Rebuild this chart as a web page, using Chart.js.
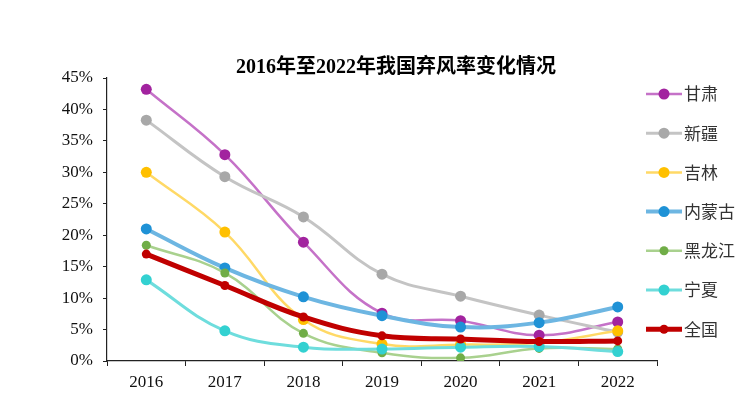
<!DOCTYPE html>
<html>
<head>
<meta charset="utf-8">
<script src="https://cdn.jsdelivr.net/npm/chart.js@4"></script>
<style>
  html, body { margin: 0; padding: 0; background: #fff; }
  #wrap { width: 756px; height: 398px; }
</style>
</head>
<body>
<div id="wrap"><canvas id="chart" width="756" height="398"></canvas></div>
<script>
"use strict";

    // 年份
    const years = ['2016', '2017', '2018', '2019', '2020', '2021', '2022'];

    // 各地区弃风率（%）
    const gansu = [43.2, 32.8, 18.9, 7.6, 6.4, 4.1, 6.2];
    const xinjiang = [38.3, 29.3, 22.9, 13.8, 10.3, 7.3, 4.6];
    const jilin = [30.0, 20.5, 6.6, 2.7, 2.6, 2.9, 4.8];
    const neimenggu = [21.0, 14.8, 10.2, 7.2, 5.4, 6.1, 8.6];
    const heilongjiang = [18.4, 14.0, 4.4, 1.3, 0.5, 2.0, 1.9];
    const ningxia = [12.9, 4.8, 2.2, 1.9, 2.2, 2.3, 1.5];
    const national = [17.0, 12.0, 7.0, 4.0, 3.5, 3.1, 3.2];

    const yTicks = [0, 5, 10, 15, 20, 25, 30, 35, 40, 45];

    const serif = "'Liberation Serif', 'Noto Sans CJK SC', serif";
    const cjk = "'Noto Sans CJK SC', sans-serif";

    function series(label, data, line, point, width, radius, order) {
        return {
            label,
            data,
            borderColor: line,
            backgroundColor: point,
            pointBackgroundColor: point,
            pointBorderColor: point,
            pointBorderWidth: 0,
            borderWidth: width,
            pointRadius: radius,
            pointHoverRadius: radius,
            tension: 0.4,
            order
        };
    }

    // 标题
    const titlePlugin = {
        id: 'titleText',
        afterDraw(chart) {
            const c = chart.ctx;
            c.save();
            c.font = "bold 20px " + serif;
            c.fillStyle = '#000';
            c.textAlign = 'center';
            c.textBaseline = 'middle';
            c.fillText('2016年至2022年我国弃风率变化情况', 396, 68);
            c.restore();
        }
    };

    // 图例（线段 + 圆点）
    const legendPlugin = {
        id: 'lineLegend',
        afterDraw(chart) {
            const c = chart.ctx;
            const startY = 94;
            const gap = 39.2;
            chart.data.datasets.forEach((ds, i) => {
                const y = startY + i * gap;
                c.save();
                c.strokeStyle = ds.borderColor;
                c.lineWidth = ds.borderWidth;
                c.beginPath();
                c.moveTo(646, y);
                c.lineTo(682, y);
                c.stroke();
                c.fillStyle = ds.pointBackgroundColor;
                c.beginPath();
                c.arc(664, y, ds.pointRadius, 0, Math.PI * 2);
                c.fill();
                c.font = "17px " + cjk;
                c.fillStyle = '#333';
                c.textAlign = 'left';
                c.textBaseline = 'middle';
                c.fillText(ds.label, 684, y);
                c.restore();
            });
        }
    };

    const ctx = document.getElementById('chart').getContext('2d');
    const chart = new Chart(ctx, {
        type: 'line',
        data: {
            labels: years,
            datasets: [
                series('甘肃', gansu, '#C572C8', '#A2239F', 2.5, 5.5, 6),
                series('新疆', xinjiang, '#C4C4C4', '#A8A8A8', 3, 5.5, 5),
                series('吉林', jilin, '#FFD966', '#FFC000', 2.5, 5.5, 4),
                series('内蒙古', neimenggu, '#6DB6E2', '#1F92D6', 4, 5.5, 3),
                series('黑龙江', heilongjiang, '#A9D18E', '#70AD47', 2.5, 4.5, 2),
                series('宁夏', ningxia, '#6EDDDD', '#33D1D1', 3, 5.5, 1),
                series('全国', national, '#C00000', '#C00000', 5, 4.5, 0)
            ]
        },
        options: {
            responsive: false,
            animation: false,
            devicePixelRatio: 1,
            layout: {
                padding: { left: 0, right: 99, top: 78, bottom: 0 }
            },
            plugins: {
                legend: { display: false },
                title: { display: false },
                tooltip: { enabled: false }
            },
            scales: {
                x: {
                    offset: true,
                    grid: {
                        offset: true,
                        drawOnChartArea: false,
                        drawTicks: true,
                        tickLength: 5,
                        color: '#222'
                    },
                    border: { color: '#222', width: 1.2 },
                    ticks: {
                        color: '#111',
                        font: { family: serif, size: 17 },
                        padding: 6,
                        maxRotation: 0
                    },
                    afterFit(scale) { scale.height = 37; }
                },
                y: {
                    min: 0,
                    max: 45,
                    afterBuildTicks(scale) {
                        scale.ticks = yTicks.map(v => ({ value: v }));
                    },
                    grid: {
                        drawOnChartArea: false,
                        drawTicks: true,
                        tickLength: 4,
                        color: '#222'
                    },
                    border: { color: '#222', width: 1.2 },
                    ticks: {
                        color: '#111',
                        font: { family: serif, size: 17 },
                        padding: 10,
                        callback: v => v + '%'
                    },
                    afterFit(scale) { scale.width = 107; }
                }
            }
        },
        plugins: [titlePlugin, legendPlugin]
    });
</script>
</body>
</html>
